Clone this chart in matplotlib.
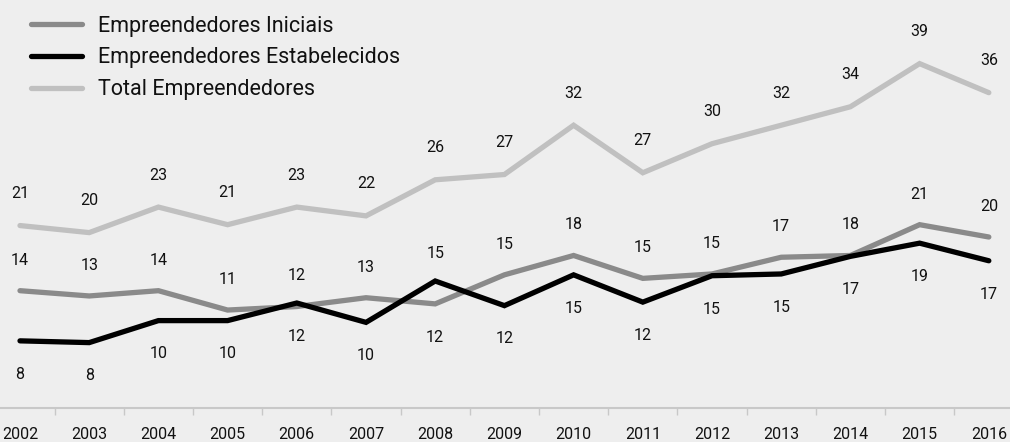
import matplotlib.pyplot as plt
import numpy as np

anos = ['2002', '2003', '2004', '2005', '2006', '2007', '2008', '2009',
        '2010', '2011', '2012', '2013', '2014', '2015', '2016']
iniciais = [13.5, 12.9, 13.5, 11.3, 11.7, 12.7, 12.0, 15.3, 17.5, 14.9, 15.4, 17.3, 17.5, 21.0, 19.6]
estabelecidos = [7.8, 7.6, 10.1, 10.1, 12.1, 9.9, 14.6, 11.8, 15.3, 12.2, 15.2, 15.4, 17.4, 18.9, 16.9]
total = [20.9, 20.1, 23.0, 21.0, 23.0, 22.0, 26.1, 26.7, 32.3, 26.9, 30.2, 32.3, 34.4, 39.3, 36.0]

# anos em que o rótulo troca de lado
iniciais_abaixo = ['2008']
estabelecidos_acima = ['2008']

plt.rcParams['font.family'] = ['Roboto', 'DejaVu Sans']
bg = '#eeeeee'

fig = plt.figure(figsize=(10.1, 4.42), dpi=100, facecolor=bg)
ax = fig.add_axes([0, 34 / 442, 1, 408 / 442], facecolor=bg)

x = np.arange(len(anos))
ax.plot(x, iniciais, color='#8a8a8a', lw=3.8, solid_capstyle='round',
        solid_joinstyle='miter', label='Empreendedores Iniciais')
ax.plot(x, estabelecidos, color='#000000', lw=3.8, solid_capstyle='round',
        solid_joinstyle='miter', label='Empreendedores Estabelecidos')
ax.plot(x, total, color='#c0c0c0', lw=3.8, solid_capstyle='round',
        solid_joinstyle='miter', label='Total Empreendedores')

lbl = dict(ha='center', va='center', fontsize=11.5, color='#111111',
           textcoords='offset points')
for i, ano in enumerate(anos):
    ax.annotate(f'{round(total[i])}', (i, total[i]), xytext=(0, 23), **lbl)
    dy = -24 if ano in iniciais_abaixo else 22
    ax.annotate(f'{round(iniciais[i])}', (i, iniciais[i]), xytext=(0, dy), **lbl)
    dy = 20 if ano in estabelecidos_acima else -24
    ax.annotate(f'{round(estabelecidos[i])}', (i, estabelecidos[i]), xytext=(0, dy), **lbl)

ax.set_xlim(-0.289, 14.306)
ax.set_ylim(0.17, 46.53)

for s in ['top', 'right', 'left']:
    ax.spines[s].set_visible(False)
ax.spines['bottom'].set_color('#c8c8c8')
ax.spines['bottom'].set_linewidth(1.5)
ax.set_yticks([])

ax.set_xticks(x)
ax.set_xticklabels(anos, fontsize=11.5, color='#111111')
ax.tick_params(axis='x', which='major', length=0, pad=14)
ax.set_xticks(x[:-1] + 0.5, minor=True)
ax.tick_params(axis='x', which='minor', length=5, width=1, color='#c8c8c8')

leg = ax.legend(loc='upper left', bbox_to_anchor=(22 / 1010, 1 - 7 / 408),
                frameon=False, fontsize=15.5, handlelength=2.4,
                handletextpad=0.72, labelspacing=0.5, borderaxespad=0)
for t in leg.get_texts():
    t.set_color('#111111')

fig.savefig('out.png', dpi=100, facecolor=bg)
